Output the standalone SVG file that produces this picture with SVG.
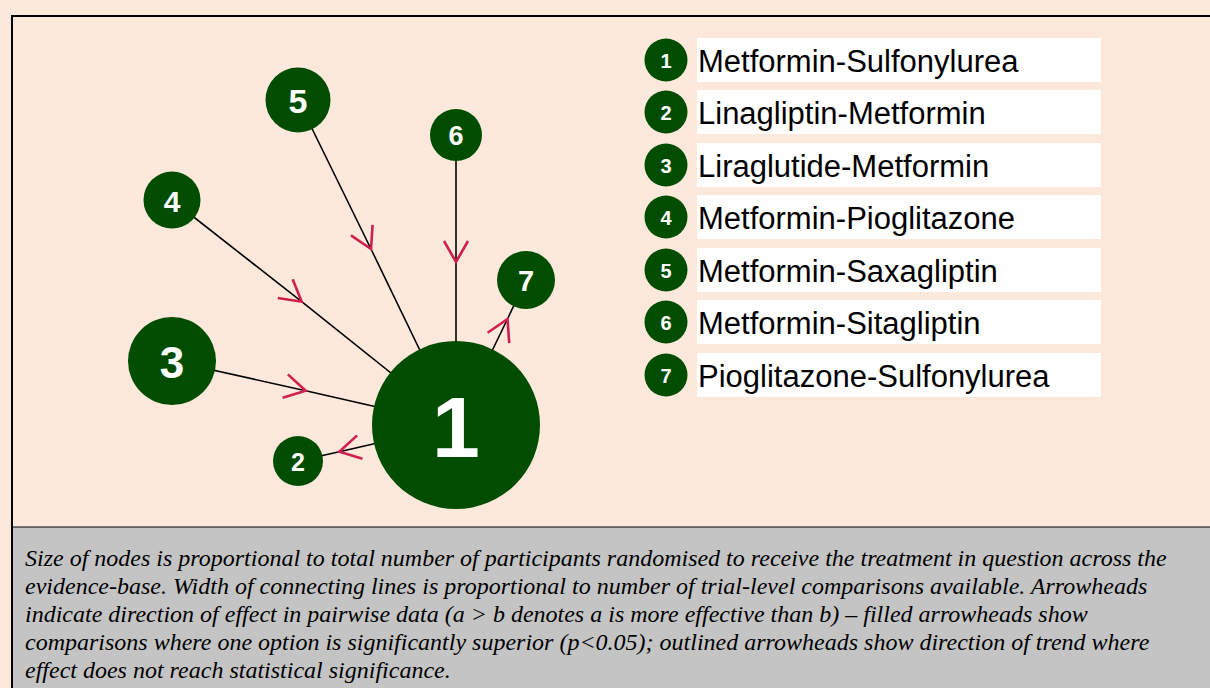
<svg xmlns="http://www.w3.org/2000/svg" width="1210" height="688" viewBox="0 0 1210 688">
<style>
.bg{fill:#FCE9DB}
.node circle{fill:#004D00}
.node text{fill:#fff;font-family:"Liberation Sans",Arial,sans-serif;font-weight:bold;text-anchor:middle;dominant-baseline:central}
.edge{stroke:#000;stroke-width:1.6;fill:none;marker-mid:url(#chev)}
.leg circle{fill:#004D00}
.leg .n{fill:#fff;font-family:"Liberation Sans",Arial,sans-serif;font-weight:bold;font-size:20px;text-anchor:middle;dominant-baseline:central}
.leg rect{fill:#fff}
.leg .t{fill:#000;font-family:"Liberation Sans",Arial,sans-serif;font-size:31px;dominant-baseline:central}
.cap{font-family:"Liberation Serif","Times New Roman",serif;font-style:italic;font-size:24px;fill:#000}
</style>
<defs>
<marker id="chev" markerUnits="userSpaceOnUse" viewBox="-24 -15 28 30" refX="0" refY="0" markerWidth="28" markerHeight="30" orient="auto" overflow="visible">
<path d="M -21 -12 L 0 0 L -21 12" fill="none" stroke="#CF1F4D" stroke-width="2.6" stroke-linejoin="miter"/>
</marker>
</defs>
<rect class="bg" x="0" y="0" width="1210" height="688"/>
<rect x="12" y="527" width="1200" height="163" fill="#C4C4C4"/>
<path d="M 12 690 L 12 16 L 1212 16" fill="none" stroke="#000" stroke-width="2"/>
<line x1="12" y1="527" x2="1210" y2="527" stroke="#000" stroke-width="1"/>
<g id="connectors">
<path class="edge" d="M 298 100 L 371 249 L 456 425"/>
<path class="edge" d="M 456 135 L 456 262 L 456 425"/>
<path class="edge" d="M 172 200 L 301.7 301.7 L 456 425"/>
<path class="edge" d="M 172 361 L 305.7 390.7 L 456 425"/>
<path class="edge" d="M 456 425 L 339.3 451.7 L 298 461"/>
<path class="edge" d="M 456 425 L 507.5 319 L 526 280"/>
</g>
<g id="node1" class="node"><circle cx="456" cy="425" r="84"/><text x="456" y="427" font-size="86">1</text></g>
<g id="node2" class="node"><circle cx="298" cy="461" r="25"/><text x="298" y="462" font-size="25">2</text></g>
<g id="node3" class="node"><circle cx="172" cy="361" r="44"/><text x="172" y="362" font-size="44">3</text></g>
<g id="node4" class="node"><circle cx="172" cy="200" r="28.5"/><text x="172" y="201" font-size="30">4</text></g>
<g id="node5" class="node"><circle cx="298" cy="100" r="32.5"/><text x="298" y="101" font-size="34">5</text></g>
<g id="node6" class="node"><circle cx="456" cy="135" r="26"/><text x="456" y="136" font-size="27">6</text></g>
<g id="node7" class="node"><circle cx="526" cy="280" r="29"/><text x="526" y="281" font-size="29">7</text></g>
<g id="legend" class="leg">
<g id="leg1"><rect x="697" y="38" width="404" height="44"/><circle cx="666" cy="60" r="21.5"/><text class="n" x="666" y="61">1</text><text class="t" x="698" y="61">Metformin-Sulfonylurea</text></g>
<g id="leg2"><rect x="697" y="90" width="404" height="44"/><circle cx="666" cy="112" r="21.5"/><text class="n" x="666" y="113">2</text><text class="t" x="698" y="113">Linagliptin-Metformin</text></g>
<g id="leg3"><rect x="697" y="143" width="404" height="44"/><circle cx="666" cy="165" r="21.5"/><text class="n" x="666" y="166">3</text><text class="t" x="698" y="166">Liraglutide-Metformin</text></g>
<g id="leg4"><rect x="697" y="195" width="404" height="44"/><circle cx="666" cy="217" r="21.5"/><text class="n" x="666" y="218">4</text><text class="t" x="698" y="218">Metformin-Pioglitazone</text></g>
<g id="leg5"><rect x="697" y="248" width="404" height="44"/><circle cx="666" cy="270" r="21.5"/><text class="n" x="666" y="271">5</text><text class="t" x="698" y="271">Metformin-Saxagliptin</text></g>
<g id="leg6"><rect x="697" y="300" width="404" height="44"/><circle cx="666" cy="322" r="21.5"/><text class="n" x="666" y="323">6</text><text class="t" x="698" y="323">Metformin-Sitagliptin</text></g>
<g id="leg7"><rect x="697" y="353" width="404" height="44"/><circle cx="666" cy="375" r="21.5"/><text class="n" x="666" y="376">7</text><text class="t" x="698" y="376">Pioglitazone-Sulfonylurea</text></g>
</g>
<g id="caption" class="cap">
<text x="25" y="566">Size of nodes is proportional to total number of participants randomised to receive the treatment in question across the</text>
<text x="25" y="594">evidence-base. Width of connecting lines is proportional to number of trial-level comparisons available. Arrowheads</text>
<text x="25" y="622">indicate direction of effect in pairwise data (a &gt; b denotes a is more effective than b) – filled arrowheads show</text>
<text x="25" y="650">comparisons where one option is significantly superior (p&lt;0.05); outlined arrowheads show direction of trend where</text>
<text x="25" y="678">effect does not reach statistical significance.</text>
</g>
</svg>
